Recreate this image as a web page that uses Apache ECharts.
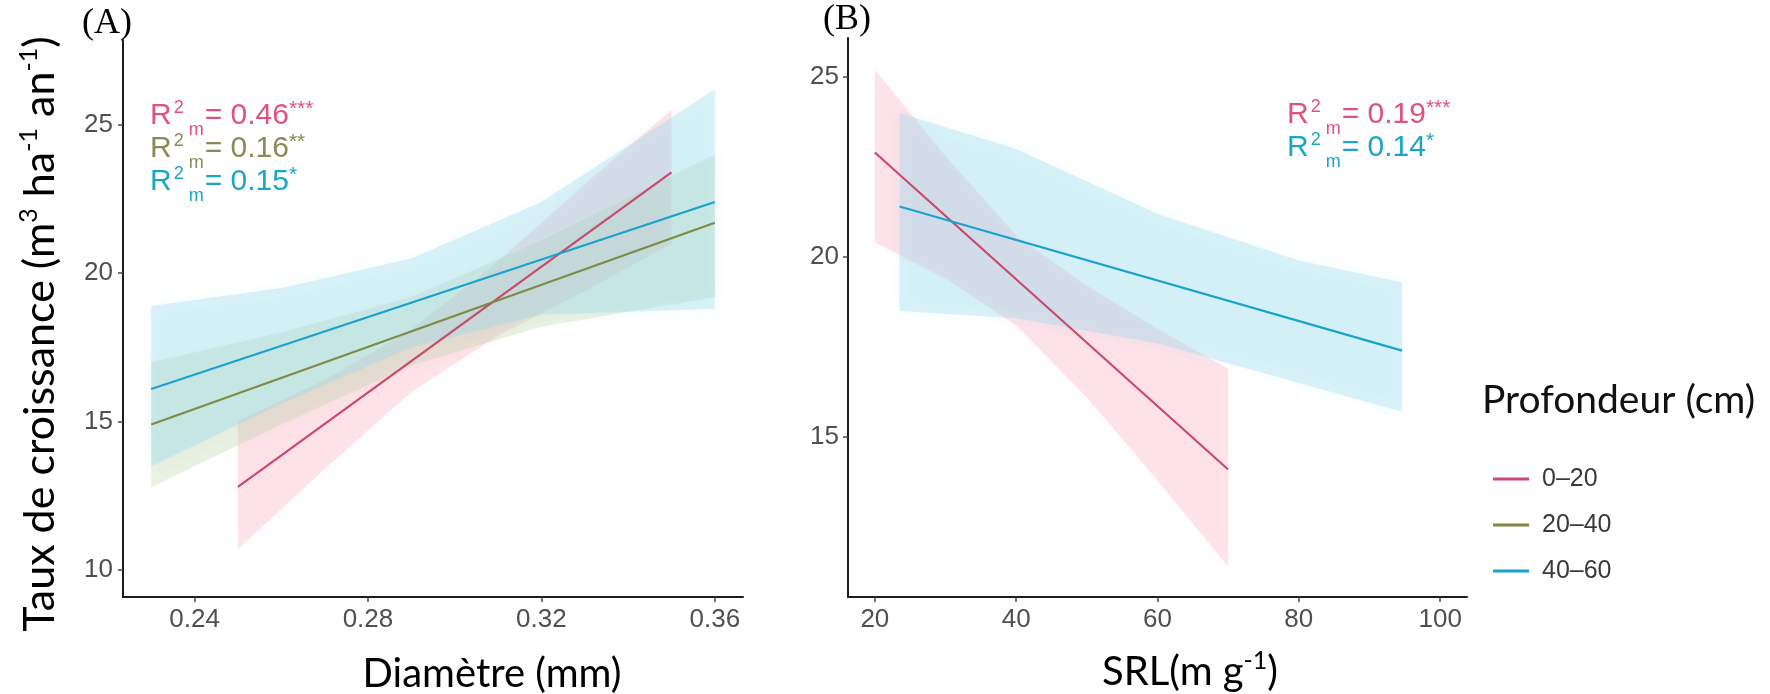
<!DOCTYPE html>
<html>
<head>
<meta charset="utf-8">
<script src="https://cdn.jsdelivr.net/npm/echarts@6.0.0/dist/echarts.min.js"></script>
<style>
  html, body { margin: 0; padding: 0; background: #ffffff; }
  #chart { width: 1770px; height: 694px; }
</style>
</head>
<body>
<div id="chart"></div>
<script>
// Depth classes (cm)
const depthNames = ['0–20', '20–40', '40–60'];
const lineColors = ['#C94A6C', '#7E8A46', '#1AA2CC'];
const bandColors = ['rgba(247,160,182,0.26)', 'rgba(176,204,146,0.24)', 'rgba(138,214,236,0.30)'];

// Panel A: growth rate vs mean root diameter (mm)
const diamTicks = [0.24, 0.28, 0.32, 0.36];
const rateTicksA = [10, 15, 20, 25];
const diamFit020 = [[0.25, 12.8], [0.35, 23.4]];
const diamFit2040 = [[0.23, 14.9], [0.36, 21.7]];
const diamFit4060 = [[0.23, 16.1], [0.36, 22.4]];
const diamBandX020 = [0.25, 0.27, 0.29, 0.31, 0.33, 0.35];
const diamBandLo020 = [10.7, 13.4, 16.0, 17.9, 19.4, 21.0];
const diamBandHi020 = [15.0, 16.4, 18.1, 20.4, 23.0, 25.5];
const diamBandX2040 = [0.23, 0.26, 0.29, 0.32, 0.36];
const diamBandLo2040 = [12.8, 14.9, 16.9, 18.2, 19.2];
const diamBandHi2040 = [17.0, 18.0, 19.2, 21.1, 24.0];
const diamBandX4060 = [0.23, 0.26, 0.29, 0.32, 0.36];
const diamBandLo4060 = [13.5, 15.6, 17.5, 18.6, 18.8];
const diamBandHi4060 = [18.9, 19.5, 20.5, 22.4, 26.2];

// Panel B: growth rate vs specific root length (m g-1)
const srlTicks = [20, 40, 60, 80, 100];
const rateTicksB = [15, 20, 25];
const srlFit020 = [[20, 22.9], [70, 14.1]];
const srlFit4060 = [[23.5, 21.4], [94.6, 17.4]];
const srlBandX020 = [20, 30, 40, 50, 60, 70];
const srlBandLo020 = [20.4, 19.4, 18.1, 16.1, 13.8, 11.4];
const srlBandHi020 = [25.2, 22.8, 20.6, 19.2, 18.0, 16.9];
const srlBandX4060 = [23.5, 40, 60, 80, 94.6];
const srlBandLo4060 = [18.5, 18.3, 17.6, 16.5, 15.7];
const srlBandHi4060 = [24.0, 23.0, 21.2, 19.9, 19.3];

// Marginal R² labels
const r2A = [['0.46', '***'], ['0.16', '**'], ['0.15', '*']];
const r2B = [['0.19', '***'], ['0.14', '*']];
const r2ColorsA = ['#E0527A', '#8A8A56', '#1AA6C4'];
const r2ColorsB = ['#E0527A', '#1AA6C4'];

const tickFont = 'Liberation Sans, Arial, sans-serif';
const titleFont = 'Lato, "Open Sans", sans-serif';

function valueAxis(gridIndex, min, max, ticks, fmt, margin) {
  return {
    type: 'value', gridIndex, min, max,
    axisLine: { show: true, onZero: false, lineStyle: { color: '#1c1c1c', width: 2 } },
    axisTick: { show: true, length: 5, customValues: ticks, lineStyle: { color: '#444', width: 1.5 } },
    axisLabel: { show: true, customValues: ticks, color: '#4f4f4f', fontSize: 26, fontFamily: tickFont, margin, formatter: fmt },
    splitLine: { show: false }
  };
}

// Confidence bands: one polygon per depth class, upper edge then lower edge reversed
function bandSeries(bands, gi) {
  return {
    type: 'custom', xAxisIndex: gi, yAxisIndex: gi, silent: true, z: 1,
    data: bands.map((b, i) => [b.xs[0], b.lo[0], i]),
    encode: { x: 0, y: 1 },
    renderItem: (params, api) => {
      const b = bands[api.value(2)];
      const upper = b.xs.map((x, k) => api.coord([x, b.hi[k]]));
      const lower = b.xs.map((x, k) => api.coord([x, b.lo[k]])).reverse();
      return {
        type: 'polygon',
        shape: { points: upper.concat(lower) },
        style: { fill: b.color, shadowBlur: 14, shadowColor: b.color }
      };
    }
  };
}

function fit(name, pts, color, gi) {
  return { type: 'line', name, xAxisIndex: gi, yAxisIndex: gi, symbol: 'none', color,
    lineStyle: { color, width: 2.2 }, data: pts, z: 5 };
}

function r2Text(vals, colors, left, top) {
  return vals.map((v, i) => ({
    type: 'text', left, top: top + i * 33, z: 10,
    style: {
      text: '{r|R}{s|2}{b|m}{r|= ' + v[0] + '}{t|' + v[1] + '}',
      rich: {
        r: { fontSize: 30, fontFamily: tickFont, fill: colors[i], lineHeight: 34, verticalAlign: 'middle' },
        s: { fontSize: 18, fontFamily: tickFont, fill: colors[i], lineHeight: 34, verticalAlign: 'top', padding: [0, 0, 0, 2] },
        t: { fontSize: 21, fontFamily: tickFont, fill: colors[i], lineHeight: 34, verticalAlign: 'top' },
        b: { fontSize: 18, fontFamily: tickFont, fill: colors[i], lineHeight: 34, verticalAlign: 'bottom', padding: [0, 1, -6, 5] }
      }
    }
  }));
}

const bandsA = [
  { xs: diamBandX020, lo: diamBandLo020, hi: diamBandHi020, color: bandColors[0] },
  { xs: diamBandX2040, lo: diamBandLo2040, hi: diamBandHi2040, color: bandColors[1] },
  { xs: diamBandX4060, lo: diamBandLo4060, hi: diamBandHi4060, color: bandColors[2] }
];
const bandsB = [
  { xs: srlBandX020, lo: srlBandLo020, hi: srlBandHi020, color: bandColors[0] },
  { xs: srlBandX4060, lo: srlBandLo4060, hi: srlBandHi4060, color: bandColors[2] }
];

const series = [
  bandSeries(bandsA, 0),
  bandSeries(bandsB, 1),
  fit(depthNames[0], diamFit020, lineColors[0], 0),
  fit(depthNames[1], diamFit2040, lineColors[1], 0),
  fit(depthNames[2], diamFit4060, lineColors[2], 0),
  fit(depthNames[0], srlFit020, lineColors[0], 1),
  fit(depthNames[2], srlFit4060, lineColors[2], 1)
];

const supRich = { s: { fontSize: 25, fontFamily: titleFont, fill: '#000', verticalAlign: 'top', lineHeight: 48 } };

const chart = echarts.init(document.getElementById('chart'), null, { renderer: 'canvas' });
chart.setOption({
  animation: false,
  backgroundColor: '#ffffff',
  grid: [
    { left: 123, top: 40, width: 620, height: 557 },
    { left: 848, top: 38, width: 619, height: 559 }
  ],
  xAxis: [
    valueAxis(0, 0.2235, 0.3665, diamTicks, v => v.toFixed(2), 10),
    valueAxis(1, 16.2, 103.8, srlTicks, v => String(v), 10)
  ],
  yAxis: [
    valueAxis(0, 9.09, 27.86, rateTicksA, v => String(v), 10),
    valueAxis(1, 10.56, 26.08, rateTicksB, v => String(v), 9)
  ],
  legend: {
    data: depthNames, orient: 'vertical', left: 1488, top: 461, selectedMode: false,
    icon: 'rect', itemWidth: 36, itemHeight: 3, itemGap: 20,
    textStyle: { fontSize: 25, fontFamily: tickFont, color: '#3a3a3a', lineHeight: 26, padding: [0, 0, 0, 8] }
  },
  series,
  graphic: [].concat(
    [
      { type: 'text', left: 82, top: 6, style: { text: '(A)', fontSize: 36, fontFamily: 'Liberation Serif, serif', fill: '#000' } },
      { type: 'text', left: 823, top: 2, style: { text: '(B)', fontSize: 36, fontFamily: 'Liberation Serif, serif', fill: '#000' } },
      { type: 'text', x: 40, y: 334, rotation: Math.PI / 2, z: 10,
        style: { text: 'Taux de croissance (m{s|3} ha{s|-1} an{s|-1})', align: 'center', verticalAlign: 'middle',
          fontSize: 43, fontFamily: titleFont, fill: '#000', lineHeight: 48, rich: supRich } },
      { type: 'text', x: 492, y: 674, z: 10,
        style: { text: 'Diamètre (mm)', align: 'center', verticalAlign: 'middle', fontSize: 40, fontFamily: titleFont, fill: '#000' } },
      { type: 'text', x: 1190, y: 672, z: 10,
        style: { text: 'SRL(m g{s|-1})', align: 'center', verticalAlign: 'middle', fontSize: 40, fontFamily: titleFont, fill: '#000', lineHeight: 48, rich: supRich } },
      { type: 'text', left: 1482, top: 381, z: 10,
        style: { text: 'Profondeur (cm)', fontSize: 39, fontFamily: titleFont, fill: '#111' } }
    ],
    r2Text(r2A, r2ColorsA, 150, 99),
    r2Text(r2B, r2ColorsB, 1287, 98)
  )
});
</script>
</body>
</html>
